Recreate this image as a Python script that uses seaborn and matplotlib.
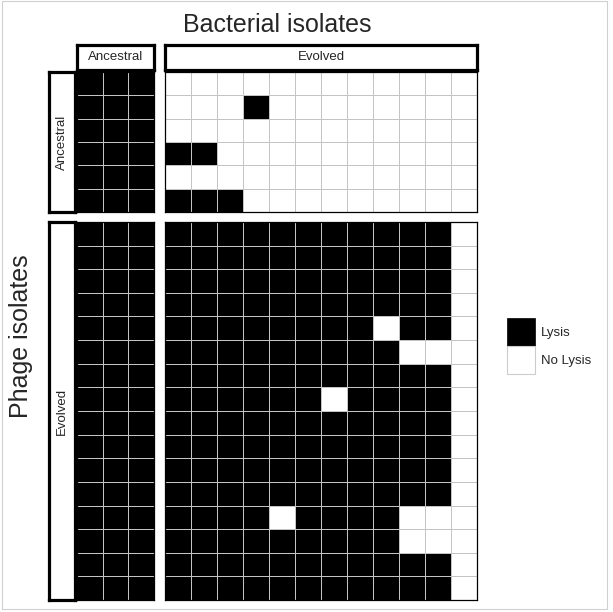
import numpy as np
import matplotlib
matplotlib.use("Agg")
import matplotlib.pyplot as plt
import seaborn as sns
from matplotlib.colors import ListedColormap
from matplotlib.patches import Patch, Rectangle

sns.set_style("white")
plt.rcParams['font.family'] = ['Liberation Sans', 'DejaVu Sans']

# lysis matrix: 1 = Lysis, 0 = No Lysis
# rows = phage isolates, cols = bacterial isolates
row_groups = ["Ancestral", "Evolved"]
col_groups = ["Ancestral", "Evolved"]

anc_phage_anc_bact = [[1, 1, 1]] * 6
anc_phage_evo_bact = [
    [0, 0, 0, 0, 0, 0, 0, 0, 0, 0, 0, 0],
    [0, 0, 0, 1, 0, 0, 0, 0, 0, 0, 0, 0],
    [0, 0, 0, 0, 0, 0, 0, 0, 0, 0, 0, 0],
    [1, 1, 0, 0, 0, 0, 0, 0, 0, 0, 0, 0],
    [0, 0, 0, 0, 0, 0, 0, 0, 0, 0, 0, 0],
    [1, 1, 1, 0, 0, 0, 0, 0, 0, 0, 0, 0],
]
evo_phage_anc_bact = [[1, 1, 1]] * 16
evo_phage_evo_bact = [
    [1, 1, 1, 1, 1, 1, 1, 1, 1, 1, 1, 0],
    [1, 1, 1, 1, 1, 1, 1, 1, 1, 1, 1, 0],
    [1, 1, 1, 1, 1, 1, 1, 1, 1, 1, 1, 0],
    [1, 1, 1, 1, 1, 1, 1, 1, 1, 1, 1, 0],
    [1, 1, 1, 1, 1, 1, 1, 1, 0, 1, 1, 0],
    [1, 1, 1, 1, 1, 1, 1, 1, 1, 0, 0, 0],
    [1, 1, 1, 1, 1, 1, 1, 1, 1, 1, 1, 0],
    [1, 1, 1, 1, 1, 1, 0, 1, 1, 1, 1, 0],
    [1, 1, 1, 1, 1, 1, 1, 1, 1, 1, 1, 0],
    [1, 1, 1, 1, 1, 1, 1, 1, 1, 1, 1, 0],
    [1, 1, 1, 1, 1, 1, 1, 1, 1, 1, 1, 0],
    [1, 1, 1, 1, 1, 1, 1, 1, 1, 1, 1, 0],
    [1, 1, 1, 1, 0, 1, 1, 1, 1, 0, 0, 0],
    [1, 1, 1, 1, 1, 1, 1, 1, 1, 0, 0, 0],
    [1, 1, 1, 1, 1, 1, 1, 1, 1, 1, 1, 0],
    [1, 1, 1, 1, 1, 1, 1, 1, 1, 1, 1, 0],
]
legend_labels = ["Lysis", "No Lysis"]

W, H = 613, 612
fig = plt.figure(figsize=(W / 100, H / 100), dpi=100)


def box(x0, y0, x1, y1):
    # pixel box (top-left origin) -> figure fraction rect
    return [x0 / W, 1 - y1 / H, (x1 - x0) / W, (y1 - y0) / H]


cols_px = [(77, 154), (165, 477)]
rows_px = [(72, 212), (222, 600)]
panels = [[anc_phage_anc_bact, anc_phage_evo_bact],
          [evo_phage_anc_bact, evo_phage_evo_bact]]
cmap = ListedColormap(["white", "black"])

for i, (y0, y1) in enumerate(rows_px):
    for j, (x0, x1) in enumerate(cols_px):
        ax = fig.add_axes(box(x0, y0, x1, y1))
        sns.heatmap(np.array(panels[i][j]), ax=ax, cmap=cmap, vmin=0, vmax=1,
                    cbar=False, linewidths=0.6, linecolor="#c4c4c4",
                    xticklabels=False, yticklabels=False)
        for sp in ax.spines.values():
            sp.set_visible(True)
            sp.set_color("black")
            sp.set_linewidth(0.9)

# facet strips
def strip(rect, label, rotation=0):
    sax = fig.add_axes(rect)
    sax.set_xticks([])
    sax.set_yticks([])
    sax.set_facecolor("white")
    for sp in sax.spines.values():
        sp.set_visible(True)
        sp.set_color("black")
        sp.set_linewidth(2.3)
    sax.text(0.5, 0.5, label, ha="center", va="center", rotation=rotation,
             fontsize=9.5, transform=sax.transAxes)

for j, (x0, x1) in enumerate(cols_px):
    strip(box(x0, 45, x1, 70), col_groups[j])
for i, (y0, y1) in enumerate(rows_px):
    strip(box(49, y0, 75, y1), row_groups[i], rotation=90)

fig.text(277.5 / W, 1 - 32 / H, "Bacterial isolates", ha="center",
         va="baseline", fontsize=18)
fig.text(28 / W, 1 - 336 / H, "Phage isolates", ha="center",
         va="baseline", rotation=90, rotation_mode="anchor", fontsize=18)

handles = [Patch(facecolor="black", edgecolor="black", linewidth=0.5),
           Patch(facecolor="white", edgecolor="#cccccc", linewidth=0.8)]
fig.legend(handles, legend_labels, loc="center left",
           bbox_to_anchor=(507 / W, 1 - 346 / H), frameon=False,
           fontsize=9.5, handlelength=2.15, handleheight=2.9,
           labelspacing=0.0, handletextpad=0.4, borderpad=0,
           borderaxespad=0)

# light outer frame
fig.patches.append(Rectangle((2 / W, 1 - 609 / H), 605 / W, 608 / H,
                             transform=fig.transFigure, fill=False,
                             edgecolor="#d0d0d0", linewidth=0.8))

fig.savefig("out.png", dpi=100, facecolor="white")
